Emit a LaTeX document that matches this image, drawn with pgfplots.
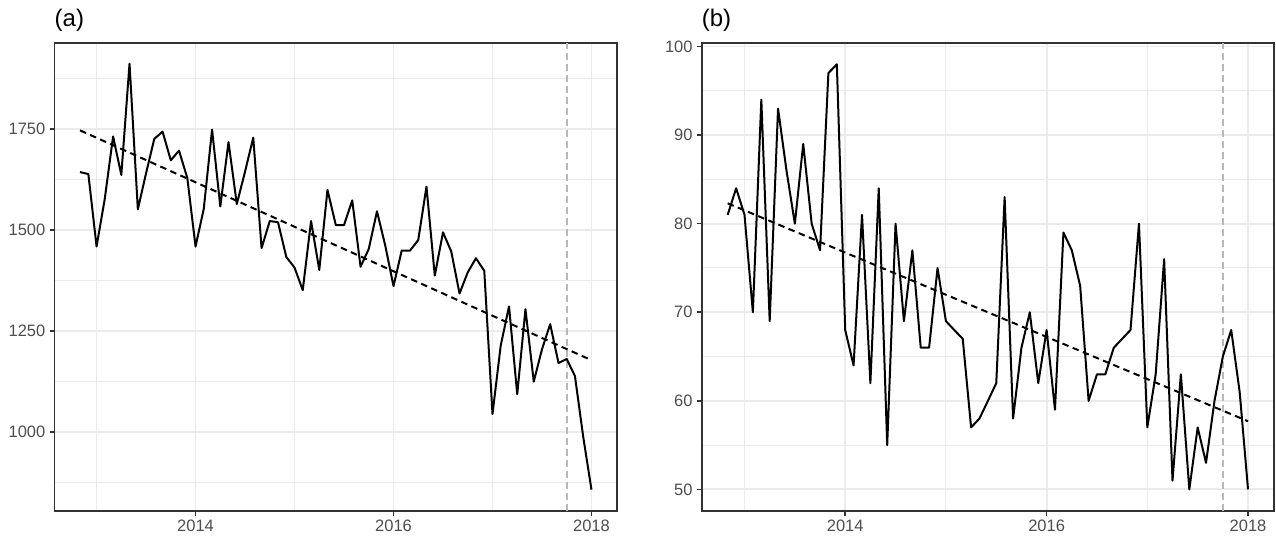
\documentclass[border=0pt]{standalone}
\usepackage{pgfplots}
\pgfplotsset{compat=1.18}
\usepackage{pgfplotstable}
\usepackage{fontspec}
\setmainfont{Liberation Sans}

\definecolor{gridgrey}{HTML}{EBEBEB}
\definecolor{framegrey}{HTML}{333333}
\definecolor{ticktext}{HTML}{4D4D4D}
\definecolor{cutgrey}{HTML}{B8B8B8}

% monthly series, Nov 2012 - Jan 2018
\pgfplotstableread{
t        a     b
2012.833 1643  81
2012.917 1638  84
2013.000 1459  81
2013.083 1577  70
2013.167 1731  94
2013.250 1636  69
2013.333 1911  93
2013.417 1551  86
2013.500 1640  80
2013.583 1725  89
2013.667 1743  80
2013.750 1672  77
2013.833 1696  97
2013.917 1628  98
2014.000 1459  68
2014.083 1552  64
2014.167 1748  81
2014.250 1558  62
2014.333 1717  84
2014.417 1564  55
2014.500 1644  80
2014.583 1728  69
2014.667 1455  77
2014.750 1522  66
2014.833 1519  66
2014.917 1433  75
2015.000 1407  69
2015.083 1351  68
2015.167 1522  67
2015.250 1401  57
2015.333 1599  58
2015.417 1512  60
2015.500 1512  62
2015.583 1573  83
2015.667 1409  58
2015.750 1453  66
2015.833 1546  70
2015.917 1461  62
2016.000 1361  68
2016.083 1449  59
2016.167 1449  79
2016.250 1475  77
2016.333 1607  73
2016.417 1387  60
2016.500 1494  63
2016.583 1447  63
2016.667 1343  66
2016.750 1395  67
2016.833 1430  68
2016.917 1399  80
2017.000 1045  57
2017.083 1214  63
2017.167 1311  76
2017.250 1094  51
2017.333 1304  63
2017.417 1125  50
2017.500 1205  57
2017.583 1267  53
2017.667 1171  60
2017.750 1181  65
2017.833 1139  68
2017.917  988  61
2018.000  858  50
}\series

\pgfplotsset{
  panel/.style={
    scale only axis, height=467.7pt, anchor=south west,
    clip mode=individual,
    xmin=2012.575, xmax=2018.258,
    xtick={2014,2016,2018}, minor xtick={2013,2015,2017},
    grid=both,
    major grid style={gridgrey, line width=1.9pt},
    minor grid style={gridgrey, line width=1pt},
    axis line style={framegrey, line width=1.6pt},
    tick style={framegrey, line width=1.6pt},
    major tick length=5pt, minor tick length=0pt, tick align=outside,
    xtick pos=bottom, ytick pos=left,
    ticklabel style={font=\fontsize{16.5}{18}\selectfont, text=ticktext},
    xticklabel style={inner sep=0pt, yshift=-4pt},
    yticklabel style={inner sep=0pt, xshift=-4pt},
    /pgf/number format/1000 sep={},
    /pgf/number format/assume math mode=true,
  },
  serie/.style={black, line width=2pt, line join=round},
  trend/.style={black, line width=2pt, dash pattern=on 6.5pt off 4.5pt},
  cut/.style={cutgrey, line width=1.6pt, dash pattern=on 6.5pt off 4.5pt},
}

\begin{document}
\begin{tikzpicture}[x=1pt, y=1pt]
\useasboundingbox (0,0) rectangle (1276,538);

\begin{axis}[panel, at={(54.5pt,27.3pt)}, width=562.5pt,
  ymin=806, ymax=1962,
  ytick={1000,1250,1500,1750}, minor ytick={875,1125,1375,1625,1875}]
  \addplot[cut] coordinates {(2017.75,806) (2017.75,1962)};
  \addplot[serie] table[x=t, y=a] {\series};
  \addplot[trend] coordinates {(2012.833,1746) (2018.000,1178)};
  \node[anchor=base west, inner sep=0pt, font=\fontsize{24}{28}\selectfont]
    at (rel axis cs:0,1) [yshift=16pt] {(a)};
\end{axis}

\begin{axis}[panel, at={(701.7pt,27.3pt)}, width=572.3pt,
  ymin=47.6, ymax=100.4,
  ytick={50,60,70,80,90,100}, minor ytick={55,65,75,85,95}]
  \addplot[cut] coordinates {(2017.75,47.6) (2017.75,100.4)};
  \addplot[serie] table[x=t, y=b] {\series};
  \addplot[trend] coordinates {(2012.833,82.3) (2018.000,57.7)};
  \node[anchor=base west, inner sep=0pt, font=\fontsize{24}{28}\selectfont]
    at (rel axis cs:0,1) [yshift=16pt] {(b)};
\end{axis}
\end{tikzpicture}
\end{document}
